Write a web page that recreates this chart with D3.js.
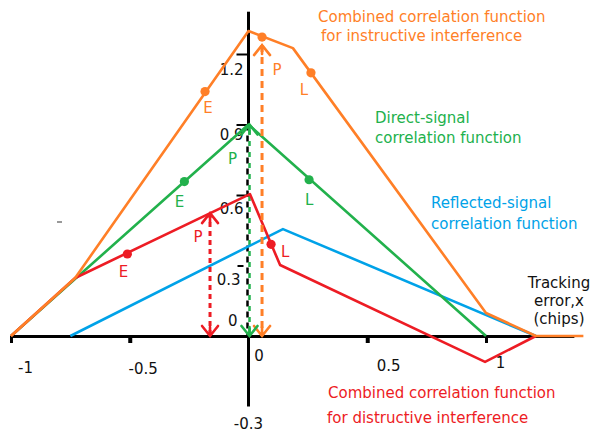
<!DOCTYPE html>
<html><head><meta charset="utf-8">
<script src="https://cdn.jsdelivr.net/npm/d3@7"></script>
<style>body{margin:0;background:#fff}svg{display:block}</style>
</head><body><svg id="c" width="590" height="432"></svg>
<script>
// ---- data ----
const directX = [-1, 0, 1];
const directY = [0, 0.9, 0];
const reflectedX = [-0.75, 0.145, 1.21];
const reflectedY = [0, 0.455, 0];
const constructiveX = [-1, -0.73, 0, 0.187, 1.0, 1.21, 1.41];
const constructiveY = [0, 0.247, 1.298, 1.225, 0.098, 0, 0];
const destructiveX = [-1, -0.73, 0.006, 0.133, 0.996, 1.21];
const destructiveY = [0, 0.247, 0.604, 0.302, -0.11, 0];
const pointNames = ["E", "P", "L"];
const constructiveDotX = [-0.183, 0.057, 0.263];
const constructiveDotY = [1.04, 1.272, 1.12];
const directDotX = [-0.27, 0, 0.255];
const directDotY = [0.657, 0.9, 0.665];
const destructiveDotX = [-0.51, -0.162, 0.095];
const destructiveDotY = [0.349, 0.523, 0.39];
const xTickValues = [-1, -0.5, 0, 0.5, 1];
const xTickLabels = ["-1", "-0.5", "0", "0.5", "1"];
const yTickValues = [1.2, 0.9, 0.6, 0.3];
const yTickLabels = ["1.2", "0.9", "0.6", "0.3"];

// ---- layout ----
const W = 590, H = 432;
const C = {orange: "#FF7F27", green: "#22B14C", blue: "#00A2E8", red: "#ED1C24", black: "#000"};
const FONT = "'DejaVu Sans', Verdana, sans-serif";
const FS = 15;
const svg = d3.select("#c");
const x = d3.scaleLinear().domain([-1, 1]).range([11, 486]);
const y = d3.scaleLinear().domain([0, 1.2]).range([336, 54]);
const line = d3.line().x(d => x(d[0])).y(d => y(d[1]));
const zip = (a, b) => a.map((v, i) => [v, b[i]]);

// ---- axes ----
const xAxisScale = x.copy().domain([-1, 1.37]).range([x(-1), x(1.37)]);
const gx = svg.append("g").attr("transform", `translate(0,${y(0)})`)
  .call(d3.axisBottom(xAxisScale).tickValues(xTickValues).tickSize(7).tickSizeOuter(0)
    .tickFormat((d, i) => xTickLabels[i]));
gx.select(".domain").attr("stroke", C.black).attr("stroke-width", 3.2);
gx.selectAll(".tick line").attr("stroke", C.black).attr("stroke-width", (d) => Math.abs(d) === 0.5 ? 4 : 3)
  .attr("display", d => d === 0 ? "none" : null);
const xLabDx = [14, 13, 10, 21, 14], xLabDy = [32, 33, 20, 30, 27];
gx.selectAll(".tick text").attr("font-family", FONT).attr("font-size", FS).attr("fill", "#111")
  .attr("dy", "0.35em").attr("y", (d, i) => xLabDy[i]).attr("x", (d, i) => xLabDx[i]);

// y axis (solid / dashed / solid)
const yTop = 1.38, yBot = -0.3;
svg.append("line").attr("x1", x(0)).attr("x2", x(0)).attr("y1", y(yTop)).attr("y2", y(0.9))
  .attr("stroke", C.black).attr("stroke-width", 3);
svg.append("line").attr("x1", x(0)).attr("x2", x(0)).attr("y1", y(0)).attr("y2", y(yBot))
  .attr("stroke", C.black).attr("stroke-width", 3);
svg.append("line").attr("x1", x(0) - 1).attr("x2", x(0) - 1).attr("y1", y(0.9)).attr("y2", y(0))
  .attr("stroke", C.black).attr("stroke-width", 2.5).attr("stroke-dasharray", "6,5");
svg.append("line").attr("x1", x(0) + 1).attr("x2", x(0) + 1).attr("y1", y(0.9)).attr("y2", y(0))
  .attr("stroke", C.green).attr("stroke-width", 2.5).attr("stroke-dasharray", "5,6").attr("stroke-dashoffset", 5.5);

const gy = svg.append("g").attr("transform", `translate(${x(0)},0)`)
  .call(d3.axisLeft(y).tickValues(yTickValues).tickSize(12).tickSizeOuter(0).tickFormat((d, i) => yTickLabels[i]));
gy.select(".domain").remove();
gy.selectAll(".tick line").attr("stroke", C.black).attr("stroke-width", 2)
  .attr("x1", d => d === 0.3 ? -5 : 0).attr("x2", d => d === 0.3 ? -11 : -12);
const yLabDy = [15, 10, 13, 14];
gy.selectAll(".tick text").attr("font-family", FONT).attr("font-size", FS).attr("fill", "#111")
  .attr("x", d => d === 0.3 ? -8 : -5).attr("dy", "0.35em").attr("y", (d, i) => yLabDy[i]);
svg.append("text").attr("x", x(0) - 11).attr("y", y(0) - 15).attr("dy", "0.35em").attr("text-anchor", "end")
  .attr("font-family", FONT).attr("font-size", FS).attr("fill", "#111").text("0");
svg.append("text").attr("x", x(0)).attr("y", y(yBot) + 17).attr("dy", "0.35em").attr("text-anchor", "middle")
  .attr("font-family", FONT).attr("font-size", FS).attr("fill", "#111").text("-0.3");

// stray dash
svg.append("line").attr("x1", 57).attr("x2", 62).attr("y1", 222).attr("y2", 222).attr("stroke", "#777").attr("stroke-width", 1.5);

// ---- curves ----
function curve(xs, ys, col) {
  svg.append("path").attr("d", line(zip(xs, ys))).attr("fill", "none").attr("stroke", col)
    .attr("stroke-width", 2.6).attr("stroke-linejoin", "round");
}
curve(reflectedX, reflectedY, C.blue);
curve(directX, directY, C.green);
curve(destructiveX, destructiveY, C.red);
curve(constructiveX, constructiveY, C.orange);

// ---- arrows ----
function head(px, py, dir, col) { // dir -1 = up, +1 = down
  const h = 10 * dir, w = 8;
  svg.append("path").attr("d", `M${px - w},${py - h} L${px},${py} L${px + w},${py - h} M${px},${py} L${px},${py - h * 0.9}`)
    .attr("fill", "none").attr("stroke", col).attr("stroke-width", 2.6).attr("stroke-linecap", "round");
}
function arrow(xv, yTopV, col, dash) {
  const px = x(xv);
  svg.append("line").attr("x1", px).attr("x2", px).attr("y1", y(yTopV)).attr("y2", y(0))
    .attr("stroke", col).attr("stroke-width", 3).attr("stroke-dasharray", dash);
  head(px, y(yTopV), -1, col);
  head(px, y(0), 1, col);
}
arrow(constructiveDotX[1], 1.238, C.orange, "7,5");
arrow(destructiveDotX[1], destructiveDotY[1], C.red, "5,4");
head(x(0) + 1, y(0.9), -1, C.green);
head(x(0) + 1, y(0), 1, C.green);

// ---- dots and letter labels ----
function dots(xs, ys, col, showIdx, offs) {
  xs.forEach((xv, i) => {
    if (showIdx.includes(i)) svg.append("circle").attr("cx", x(xv)).attr("cy", y(ys[i])).attr("r", 4.6).attr("fill", col);
    svg.append("text").attr("x", x(xv) + offs[i][0]).attr("y", y(ys[i]) + offs[i][1]).attr("dy", "0.35em")
      .attr("text-anchor", "middle").attr("font-family", FONT).attr("font-size", FS).attr("fill", col).text(pointNames[i]);
  });
}
dots(constructiveDotX, constructiveDotY, C.orange, [0, 1, 2], [[3, 16], [15, 33], [-7, 17]]);
dots(directDotX, directDotY, C.green, [0, 2], [[-5, 20], [-16, 34], [0, 20]]);
dots(destructiveDotX, destructiveDotY, C.red, [0, 2], [[-4, 18], [-12, 24], [14, 7]]);

// ---- annotations ----
function note(lines, col, x0, y0, lh, anchor) {
  lines.forEach((t, i) => svg.append("text").attr("x", x0).attr("y", y0 + i * lh).attr("dy", "0.35em")
    .attr("text-anchor", anchor || "start").attr("font-family", FONT).attr("font-size", FS).attr("fill", col).text(t));
}
note(["Combined correlation function"], C.orange, 318, 17, 0);
note(["for instructive interference"], C.orange, 321, 36, 0);
note(["Direct-signal", "correlation function"], C.green, 375, 118, 19.5);
note(["Reflected-signal", "correlation function"], C.blue, 431, 203, 20.5);
note(["Tracking", "error,x", "(chips)"], "#111", 559, 283, 18, "middle");
note(["Combined correlation function"], C.red, 328, 393, 0);
note(["for distructive interference"], C.red, 327, 418, 0);
</script>
</body></html>
